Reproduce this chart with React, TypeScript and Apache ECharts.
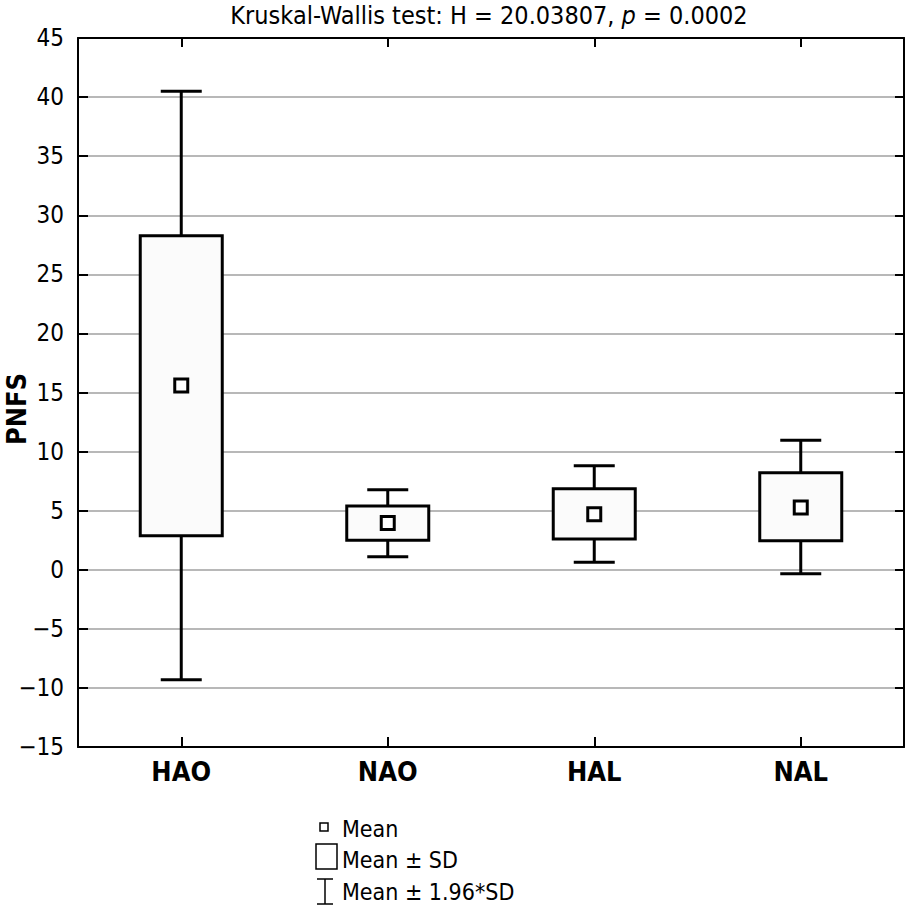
import React, { useEffect, useRef } from "react";
import * as echarts from "echarts";

const categories = ["HAO", "NAO", "HAL", "NAL"];
const whiskerLow = [-9.3, 1.1, 0.63, -0.33];
const boxLow = [2.87, 2.5, 2.6, 2.45];
const means = [15.6, 3.95, 4.7, 5.27];
const boxHigh = [28.27, 5.4, 6.85, 8.2];
const whiskerHigh = [40.5, 6.77, 8.8, 10.95];
const yTicks = { min: -15, max: 45, interval: 5 };

const FONT = "'Liberation Sans Narrow', 'DejaVu Sans Condensed', 'Roboto Condensed', 'Liberation Sans', sans-serif";

export default function App() {
  const ref = useRef<HTMLDivElement>(null);
  useEffect(() => {
    if (!ref.current) return;
    const chart = echarts.init(ref.current, null, { renderer: "svg" });
    const data = categories.map((_, i) => [i, whiskerLow[i], boxLow[i], means[i], boxHigh[i], whiskerHigh[i]]);
    const boxW = 82;
    const capW = 41;
    const meanS = 13;
    const option: any = {
      animation: false,
      backgroundColor: "#ffffff",
      grid: { left: 78, right: 2, top: 38, bottom: 167, containLabel: false },
      xAxis: [
        {
          type: "category",
          data: categories,
          position: "bottom",
          axisLine: { show: true, onZero: false, lineStyle: { color: "#000", width: 2 } },
          axisTick: { show: true, inside: true, alignWithLabel: true, length: 10, lineStyle: { color: "#000", width: 2 } },
          axisLabel: { fontFamily: FONT, fontSize: 27, fontWeight: "bold", color: "#000", margin: 11 },
          splitLine: { show: false },
        },
        {
          type: "category",
          data: categories,
          position: "top",
          axisLine: { show: true, onZero: false, lineStyle: { color: "#000", width: 2 } },
          axisTick: { show: true, inside: true, alignWithLabel: true, length: 9, lineStyle: { color: "#000", width: 2 } },
          axisLabel: { show: false },
          splitLine: { show: false },
        },
      ],
      yAxis: [
        {
          type: "value",
          min: yTicks.min,
          max: yTicks.max,
          interval: yTicks.interval,
          position: "left",
          axisLine: { show: true, onZero: false, lineStyle: { color: "#000", width: 2 } },
          axisTick: { show: true, inside: true, length: 10, lineStyle: { color: "#000", width: 2 } },
          axisLabel: {
            fontFamily: FONT,
            fontSize: 24,
            color: "#000",
            margin: 14,
            formatter: (v: number) => (v < 0 ? "\u2212" + Math.abs(v) : String(v)),
          },
          splitLine: { show: true, lineStyle: { color: "#b8b8b8", width: 2 } },
        },
        {
          type: "value",
          min: yTicks.min,
          max: yTicks.max,
          interval: yTicks.interval,
          position: "right",
          axisLine: { show: true, onZero: false, lineStyle: { color: "#000", width: 2 } },
          axisTick: { show: true, inside: true, length: 9, lineStyle: { color: "#000", width: 2 } },
          axisLabel: { show: false },
          splitLine: { show: false },
        },
      ],
      series: [
        {
          type: "custom",
          xAxisIndex: 0,
          yAxisIndex: 0,
          data,
          renderItem: (params: any, api: any) => {
            const x = api.value(0);
            const pWL = api.coord([x, api.value(1)]);
            const pBL = api.coord([x, api.value(2)]);
            const pM = api.coord([x, api.value(3)]);
            const pBH = api.coord([x, api.value(4)]);
            const pWH = api.coord([x, api.value(5)]);
            const cx = pM[0];
            const ls = { stroke: "#000", lineWidth: 3 };
            return {
              type: "group",
              children: [
                { type: "line", shape: { x1: cx, y1: pBH[1], x2: cx, y2: pWH[1] }, style: ls },
                { type: "line", shape: { x1: cx, y1: pBL[1], x2: cx, y2: pWL[1] }, style: ls },
                { type: "line", shape: { x1: cx - capW / 2, y1: pWH[1], x2: cx + capW / 2, y2: pWH[1] }, style: ls },
                { type: "line", shape: { x1: cx - capW / 2, y1: pWL[1], x2: cx + capW / 2, y2: pWL[1] }, style: ls },
                {
                  type: "rect",
                  shape: { x: cx - boxW / 2, y: pBH[1], width: boxW, height: pBL[1] - pBH[1] },
                  style: { fill: "#fbfbfb", stroke: "#000", lineWidth: 3 },
                },
                {
                  type: "rect",
                  shape: { x: cx - meanS / 2, y: pM[1] - meanS / 2, width: meanS, height: meanS },
                  style: { fill: "#ffffff", stroke: "#000", lineWidth: 3 },
                },
              ],
            };
          },
        },
      ],
      graphic: [
        {
          type: "text",
          x: 489,
          y: 15,
          style: {
            text: "Kruskal-Wallis test: H = 20.03807, {i|p} = 0.0002",
            fontFamily: FONT,
            fontSize: 25,
            fill: "#000",
            align: "center",
            verticalAlign: "middle",
            rich: { i: { fontStyle: "italic", fontFamily: FONT, fontSize: 25, fill: "#000" } },
          },
        },
        {
          type: "text",
          x: 16,
          y: 409,
          rotation: Math.PI / 2,
          style: {
            text: "PNFS",
            fontFamily: FONT,
            fontSize: 27,
            fontWeight: "bold",
            fill: "#000",
            align: "center",
            verticalAlign: "middle",
          },
        },
        // legend
        { type: "rect", shape: { x: 320, y: 823, width: 8, height: 8 }, style: { fill: "#fff", stroke: "#000", lineWidth: 1.5 } },
        { type: "text", x: 342, y: 829, style: { text: "Mean", fontFamily: FONT, fontSize: 23, fill: "#000", verticalAlign: "middle" } },
        { type: "rect", shape: { x: 316, y: 844, width: 21, height: 25 }, style: { fill: "#fff", stroke: "#000", lineWidth: 1.5 } },
        { type: "text", x: 342, y: 860, style: { text: "Mean \u00b1 SD", fontFamily: FONT, fontSize: 23, fill: "#000", verticalAlign: "middle" } },
        { type: "line", shape: { x1: 317, y1: 879, x2: 333, y2: 879 }, style: { stroke: "#000", lineWidth: 1.5 } },
        { type: "line", shape: { x1: 325, y1: 879, x2: 325, y2: 904 }, style: { stroke: "#000", lineWidth: 1.5 } },
        { type: "line", shape: { x1: 317, y1: 904, x2: 333, y2: 904 }, style: { stroke: "#000", lineWidth: 1.5 } },
        { type: "text", x: 342, y: 892, style: { text: "Mean \u00b1 1.96*SD", fontFamily: FONT, fontSize: 23, fill: "#000", verticalAlign: "middle" } },
      ],
    };
    chart.setOption(option);
    return () => chart.dispose();
  }, []);
  return <div ref={ref} style={{ position: "fixed", left: 0, top: 0, width: 906, height: 914 }} />;
}
